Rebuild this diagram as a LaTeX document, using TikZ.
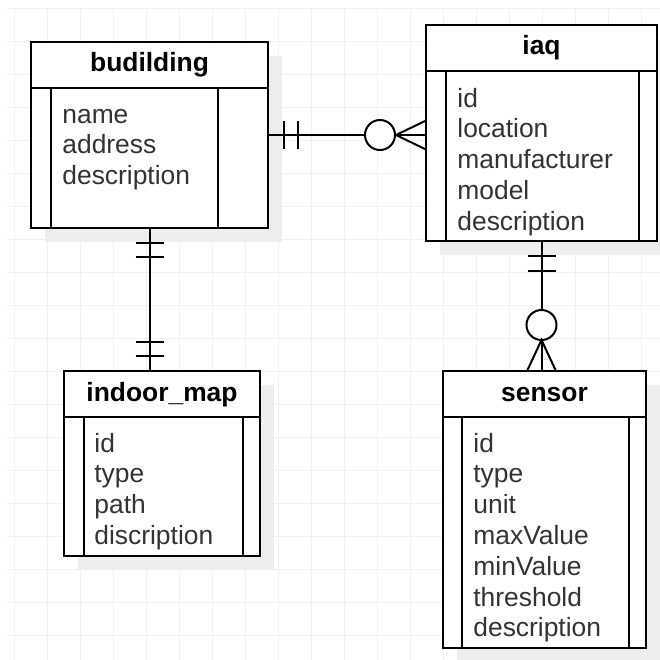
\documentclass[tikz,border=0pt]{standalone}
\usepackage{fontspec}
\setmainfont{Liberation Sans}
\usepackage{tikz}
\usetikzlibrary{calc,shadows}
\definecolor{gridGray}{HTML}{F0F0F0}
\definecolor{shadowGray}{HTML}{EEEEEE}
\definecolor{fieldText}{HTML}{333333}

\tikzset{
  entity/.style={draw, line width=1pt, fill=white, inner sep=0pt, anchor=north west,
    drop shadow={shadow xshift=7pt, shadow yshift=-7pt, fill=shadowGray, opacity=1}},
  rel/.style={line width=1pt},
  title/.style={font=\fontsize{13.2}{15}\selectfont\bfseries, anchor=base, inner sep=0pt},
  field/.style={anchor=base west, inner sep=0pt, text=fieldText},
}

\begin{document}
\begin{tikzpicture}[x=0.5pt,y=-0.5pt,font=\fontsize{13.2}{15}\selectfont]
  \useasboundingbox (0,0) rectangle (660,660);
  \fill[white] (0,0) rectangle (660,660);

  % grid
  \foreach \y in {8,41,...,660} \draw[gridGray, line width=0.5pt] (7,\y) -- (660,\y);
  \foreach \x in {14,47,...,660} \draw[gridGray, line width=0.5pt] (\x,8) -- (\x,660);

  % entities
  \node[entity, minimum width=118.5pt, minimum height=93pt]  (bld) at (30,41)   {};
  \node[entity, minimum width=115.5pt, minimum height=108pt] (iaq) at (425,24)  {};
  \node[entity, minimum width=98pt,    minimum height=92.5pt] (map) at (63,370) {};
  \node[entity, minimum width=101.5pt, minimum height=138.5pt] (sen) at (442,370) {};

  % header line and side columns
  \foreach \e/\l/\r in {bld/21/51, iaq/21/19, map/21/18, sen/20/18} {
    \draw[rel] ($(\e.north west)+(0,47)$) -- ($(\e.north east)+(0,47)$);
    \draw[rel] ($(\e.north west)+(\l,47)$) -- ($(\e.south west)+(\l,0)$);
    \draw[rel] ($(\e.north east)+(-\r,47)$) -- ($(\e.south east)+(-\r,0)$);
  }

  % titles
  \node[title] (bld-t) at ($(bld.north)+(0,30)$) {budilding};
  \node[title] (iaq-t) at ($(iaq.north)+(0,30)$) {iaq};
  \node[title] (map-t) at ($(map.north)+(0,31)$) {indoor\_map};
  \node[title] (sen-t) at ($(sen.north)+(0,31)$) {sensor};

  % fields
  \foreach \f [count=\i from 0] in {name,address,description}
    \node[field] (bld-\i) at ($(bld.north west)+(32,{82+30.8*\i})$) {\f};
  \foreach \f [count=\i from 0] in {id,location,manufacturer,model,description}
    \node[field] (iaq-\i) at ($(iaq.north west)+(32,{83+30.8*\i})$) {\f};
  \foreach \f [count=\i from 0] in {id,type,path,discription}
    \node[field] (map-\i) at ($(map.north west)+(31,{82+30.8*\i})$) {\f};
  \foreach \f [count=\i from 0] in {id,type,unit,maxValue,minValue,threshold,description}
    \node[field] (sen-\i) at ($(sen.north west)+(31,{82+30.8*\i})$) {\f};

  % budilding -- iaq
  \coordinate (bi) at (bld.east -| iaq.west);
  \draw[rel] (bld.east) -- (bi);
  \draw[rel] ($(bld.east)+(15,-14)$) -- ($(bld.east)+(15,14)$);
  \draw[rel] ($(bld.east)+(29,-14)$) -- ($(bld.east)+(29,14)$);
  \draw[rel, fill=white] ($(bi)+(-45,0)$) circle (7.5pt);
  \draw[rel] ($(bi)+(0,-14)$) -- ($(bi)+(-29,0)$) -- ($(bi)+(0,14)$);

  % budilding -- indoor_map
  \coordinate (bm) at (bld.south |- map.north);
  \draw[rel] (bld.south) -- (bm);
  \draw[rel] ($(bld.south)+(-14,14)$) -- ($(bld.south)+(14,14)$);
  \draw[rel] ($(bld.south)+(-14,28)$) -- ($(bld.south)+(14,28)$);
  \draw[rel] ($(bm)+(-14,-14)$) -- ($(bm)+(14,-14)$);
  \draw[rel] ($(bm)+(-14,-28)$) -- ($(bm)+(14,-28)$);

  % iaq -- sensor
  \coordinate (is) at (iaq.south |- sen.north);
  \draw[rel] (iaq.south) -- (is);
  \draw[rel] ($(iaq.south)+(-14,14)$) -- ($(iaq.south)+(14,14)$);
  \draw[rel] ($(iaq.south)+(-14,29)$) -- ($(iaq.south)+(14,29)$);
  \draw[rel, fill=white] ($(is)+(0,-45)$) circle (7.5pt);
  \draw[rel] ($(is)+(-14,0)$) -- ($(is)+(0,-30)$) -- ($(is)+(14,0)$);
\end{tikzpicture}
\end{document}
